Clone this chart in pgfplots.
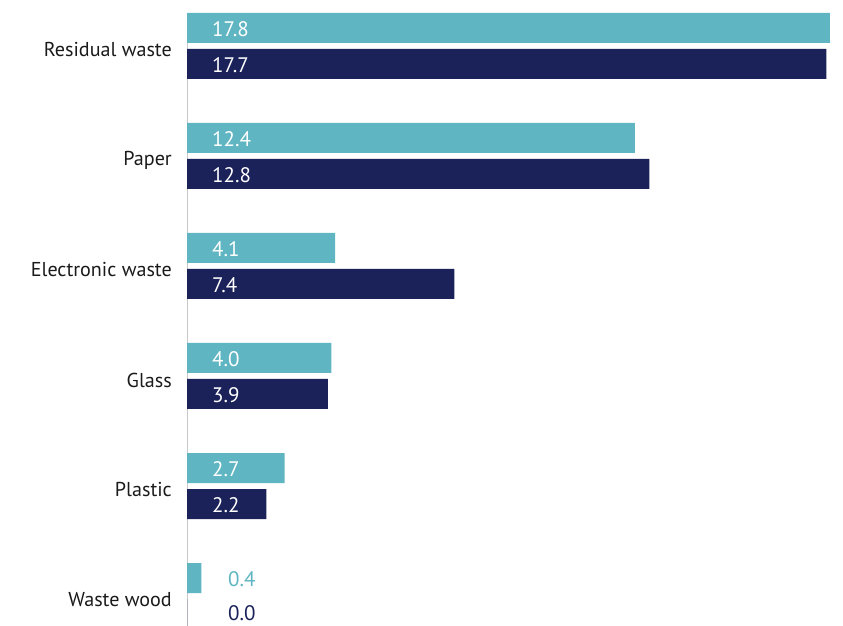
\documentclass[border=0pt]{standalone}
\usepackage{pgfplots}
\pgfplotsset{compat=1.18}
\usepackage{pgfplotstable}
\usepackage{fontspec}
\setmainfont{PT Sans}

\definecolor{tealbar}{HTML}{5FB5C1}
\definecolor{navybar}{HTML}{1A2259}
\definecolor{axgray}{HTML}{C8C8C8}
\definecolor{labtext}{HTML}{1A1A1A}

% category index: 5 = Residual waste (top) ... 0 = Waste wood (bottom)
\pgfplotstableread{
cat val
5 17.8
4 12.4
3 4.1
2 4.0
1 2.7
0 0.4
}\firstseries

\pgfplotstableread{
cat val
5 17.7
4 12.8
3 7.4
2 3.9
1 2.2
0 0.0
}\secondseries

% value labels set inside the bars
\pgfplotstableread{
cat val
5 17.8
4 12.4
3 4.1
2 4.0
1 2.7
}\firstinside

\pgfplotstableread{
cat val
5 17.7
4 12.8
3 7.4
2 3.9
1 2.2
}\secondinside

% value labels set beside the short bars
\pgfplotstableread{
cat val
0 0.4
}\firstoutside

\pgfplotstableread{
cat val
0 0.0
}\secondoutside

\begin{document}
\begin{tikzpicture}[font=\fontsize{20.1}{24}\selectfont]
\useasboundingbox (0,0) rectangle (843pt,626pt);
\begin{axis}[
  at={(187pt,0pt)}, anchor=south west,
  scale only axis, width=650.2pt, height=613pt,
  xmin=0, xmax=18, ymin=-0.2727, ymax=5.3,
  axis y line*=left, axis x line=none,
  y axis line style={draw=axgray, line width=0.9pt, -},
  ytick={0,1,2,3,4,5},
  yticklabels={Waste wood, Plastic, Glass, Electronic waste, Paper, Residual waste},
  major tick length=0pt,
  yticklabel style={inner sep=0pt, xshift=-15pt, yshift=-4pt, text=labtext},
  clip=false,
  every node near coord/.append style={font=\fontsize{21}{24}\selectfont},
]
\addplot[xbar, bar width=30pt, bar shift=18pt, fill=tealbar, draw=none]
  table[x=val, y=cat]{\firstseries};
\addplot[xbar, bar width=30pt, bar shift=-18pt, fill=navybar, draw=none]
  table[x=val, y=cat]{\secondseries};

\addplot[draw=none, mark=none, nodes near coords, point meta=explicit symbolic,
  every node near coord/.append style={anchor=west, inner sep=0pt, text=white, xshift=25pt, yshift=16.5pt}]
  table[x expr=0, y=cat, meta=val]{\firstinside};
\addplot[draw=none, mark=none, nodes near coords, point meta=explicit symbolic,
  every node near coord/.append style={anchor=west, inner sep=0pt, text=white, xshift=25pt, yshift=-19.5pt}]
  table[x expr=0, y=cat, meta=val]{\secondinside};
\addplot[draw=none, mark=none, nodes near coords, point meta=explicit symbolic,
  every node near coord/.append style={anchor=west, inner sep=0pt, text=tealbar, xshift=41pt, yshift=16.5pt}]
  table[x expr=0, y=cat, meta=val]{\firstoutside};
\addplot[draw=none, mark=none, nodes near coords, point meta=explicit symbolic,
  every node near coord/.append style={anchor=west, inner sep=0pt, text=navybar, xshift=41pt, yshift=-17.5pt}]
  table[x expr=0, y=cat, meta=val]{\secondoutside};
\end{axis}
\end{tikzpicture}
\end{document}
